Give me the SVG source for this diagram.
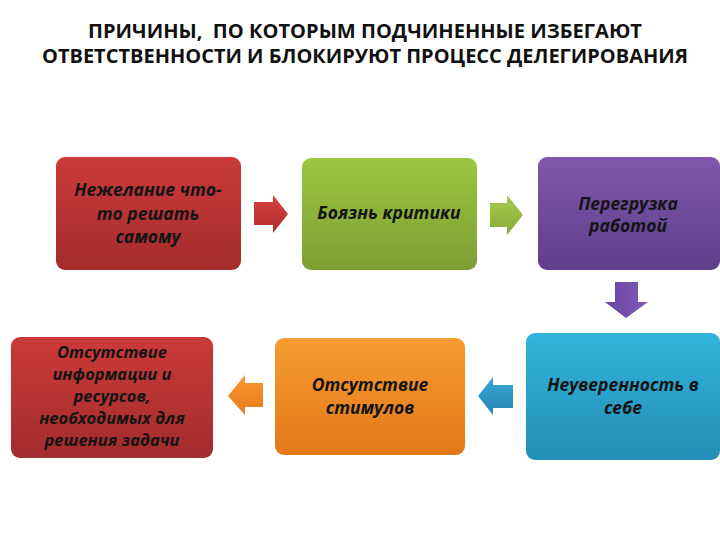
<svg xmlns="http://www.w3.org/2000/svg" width="720" height="540" viewBox="0 0 720 540">
<defs>
<linearGradient id="gRed" x1="0" y1="0" x2="0" y2="1"><stop offset="0" stop-color="#cc3a3a"/><stop offset="1" stop-color="#a32c2c"/></linearGradient>
<linearGradient id="gGreen" x1="0" y1="0" x2="0" y2="1"><stop offset="0" stop-color="#9cc640"/><stop offset="1" stop-color="#7c9f34"/></linearGradient>
<linearGradient id="gPurple" x1="0" y1="0" x2="0" y2="1"><stop offset="0" stop-color="#8057ab"/><stop offset="1" stop-color="#5f3f8c"/></linearGradient>
<linearGradient id="gBlue" x1="0" y1="0" x2="0" y2="1"><stop offset="0" stop-color="#32b4dc"/><stop offset="1" stop-color="#238eb6"/></linearGradient>
<linearGradient id="gOrange" x1="0" y1="0" x2="0" y2="1"><stop offset="0" stop-color="#f89c32"/><stop offset="1" stop-color="#e27818"/></linearGradient>
<linearGradient id="aRed" x1="0" y1="0" x2="0" y2="1"><stop offset="0" stop-color="#d84040"/><stop offset="1" stop-color="#b02c2c"/></linearGradient>
<linearGradient id="aGreen" x1="0" y1="0" x2="0" y2="1"><stop offset="0" stop-color="#a6cc4c"/><stop offset="1" stop-color="#86aa38"/></linearGradient>
<linearGradient id="aPurple" x1="0" y1="0" x2="1" y2="0"><stop offset="0" stop-color="#6a47a4"/><stop offset="1" stop-color="#7e58b4"/></linearGradient>
<linearGradient id="aOrange" x1="0" y1="0" x2="0" y2="1"><stop offset="0" stop-color="#f8962e"/><stop offset="1" stop-color="#e87c1c"/></linearGradient>
<linearGradient id="aBlue" x1="0" y1="0" x2="0" y2="1"><stop offset="0" stop-color="#36a8d6"/><stop offset="1" stop-color="#2684b4"/></linearGradient>
</defs>
<style>
.title{font-family:"Open Sans","Liberation Sans",sans-serif;font-weight:700;font-size:19px;fill:#111;text-anchor:middle}
.lbl{font-family:"Open Sans","DejaVu Sans",sans-serif;font-style:italic;font-weight:700;font-size:17.5px;fill:#141414;text-anchor:middle}
.sm{font-size:16.5px}
.box{stroke:none}
</style>
<rect width="720" height="540" fill="#ffffff"/>
<g id="title">
<text class="title" x="365" y="38" textLength="554" lengthAdjust="spacingAndGlyphs" xml:space="preserve">ПРИЧИНЫ,  ПО КОТОРЫМ ПОДЧИНЕННЫЕ ИЗБЕГАЮТ</text>
<text class="title" x="365" y="63" textLength="646" lengthAdjust="spacingAndGlyphs">ОТВЕТСТВЕННОСТИ И БЛОКИРУЮТ ПРОЦЕСС ДЕЛЕГИРОВАНИЯ</text>
</g>
<g id="n1">
<rect class="box" x="56" y="157" width="185" height="113" rx="9" fill="url(#gRed)"/>
<text class="lbl" x="148" y="196">Нежелание что-</text>
<text class="lbl" x="148" y="220">то решать</text>
<text class="lbl" x="148" y="243">самому</text>
</g>
<g id="n2">
<rect class="box" x="302" y="158" width="175" height="112" rx="9" fill="url(#gGreen)"/>
<text class="lbl" x="389" y="219">Боязнь критики</text>
</g>
<g id="n3">
<rect class="box" x="538" y="157" width="182" height="113" rx="9" fill="url(#gPurple)"/>
<text class="lbl" x="628" y="210">Перегрузка</text>
<text class="lbl" x="628" y="232">работой</text>
</g>
<g id="n4">
<rect class="box" x="526" y="333" width="194" height="127" rx="9" fill="url(#gBlue)"/>
<text class="lbl" x="623" y="391">Неуверенность в</text>
<text class="lbl" x="623" y="414">себе</text>
</g>
<g id="n5">
<rect class="box" x="275" y="338" width="190" height="117" rx="9" fill="url(#gOrange)"/>
<text class="lbl" x="370" y="391">Отсутствие</text>
<text class="lbl" x="370" y="414">стимулов</text>
</g>
<g id="n6">
<rect class="box" x="11" y="337" width="202" height="121" rx="9" fill="url(#gRed)"/>
<text class="lbl sm" x="112" y="358">Отсутствие</text>
<text class="lbl sm" x="112" y="380">информации и</text>
<text class="lbl sm" x="112" y="402">ресурсов,</text>
<text class="lbl sm" x="112" y="424">необходимых для</text>
<text class="lbl sm" x="112" y="446">решения задачи</text>
</g>
<g id="connectors">
<polygon points="254,202 273,202 273,195 288,214 273,233 273,225 254,225" fill="url(#aRed)"/>
<polygon points="490,203 507,203 507,195 523,215 507,235 507,227 490,227" fill="url(#aGreen)"/>
<polygon points="615,282 638,282 638,302 648,302 626,318 605,302 615,302" fill="url(#aPurple)"/>
<polygon points="513,385 493,385 493,377 478,396 493,415 493,408 513,408" fill="url(#aBlue)"/>
<polygon points="263,383 245,383 245,375 228,396 245,415 245,407 263,407" fill="url(#aOrange)"/>
</g>
</svg>
